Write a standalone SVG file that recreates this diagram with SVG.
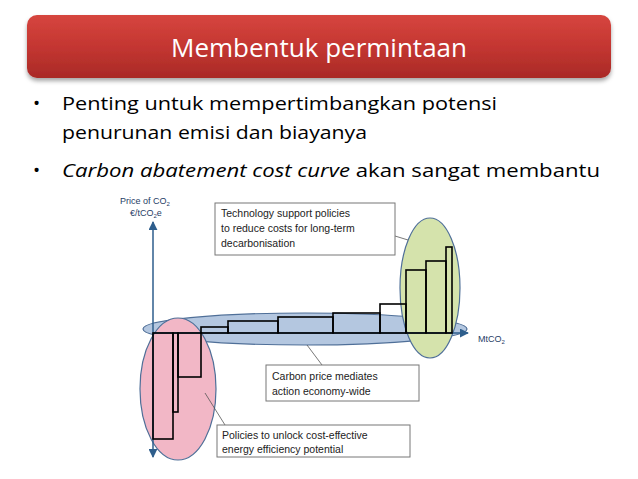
<svg xmlns="http://www.w3.org/2000/svg" width="638" height="479" viewBox="0 0 638 479">
<defs>
<linearGradient id="rg" x1="0" y1="0" x2="0" y2="1"><stop offset="0" stop-color="#d6463f"/><stop offset="0.5" stop-color="#c43631"/><stop offset="1" stop-color="#a92a27"/></linearGradient>
<marker id="ar" viewBox="0 0 10 10" refX="9" refY="5" markerWidth="6" markerHeight="6" orient="auto-start-reverse"><path d="M0,0L10,5L0,10z" fill="#2e5e8c"/></marker>
<filter id="sh" x="-5%" y="-20%" width="110%" height="150%"><feDropShadow dx="0" dy="3" stdDeviation="2" flood-color="#000" flood-opacity="0.35"/></filter>
</defs>
<style>
.b{font-family:"Open Sans","Liberation Sans",sans-serif;font-size:19px;fill:#000}
.s{font-family:"Liberation Sans",Arial,sans-serif;font-size:10.5px;fill:#222}
.ax{font-family:"Liberation Sans",Arial,sans-serif;font-size:9px;fill:#1f3e66}
.box{fill:#fff;stroke:#777;stroke-width:1}
.bar{fill:none;stroke:#000;stroke-width:1.6}
.ld{stroke:#555;stroke-width:0.8;fill:none}
</style>
<rect width="638" height="479" fill="#fff"/>
<g id="title">
<rect x="27" y="15" width="584" height="63" rx="10" fill="url(#rg)" filter="url(#sh)"/>
<text x="319" y="57" text-anchor="middle" font-family="Open Sans,Liberation Sans,sans-serif" font-size="26" fill="#fff">Membentuk permintaan</text>
</g>
<g id="bullets">
<text x="33" y="110" class="b">•</text>
<text x="62" y="110" class="b" textLength="435" lengthAdjust="spacingAndGlyphs">Penting untuk mempertimbangkan potensi</text>
<text x="62" y="139" class="b" textLength="305" lengthAdjust="spacingAndGlyphs">penurunan emisi dan biayanya</text>
<text x="33" y="177" class="b">•</text>
<text x="62" y="177" class="b" textLength="538" lengthAdjust="spacingAndGlyphs"><tspan font-style="italic">Carbon abatement cost curve</tspan> akan sangat membantu</text>
</g>
<g id="ellipses">
<ellipse id="blue" cx="305" cy="329" rx="162" ry="16" fill="#b4c7e0" stroke="#4f6f98" stroke-width="1.2"/>
<ellipse id="pink" cx="178" cy="389" rx="38" ry="71" fill="#f2b7c6" stroke="#4f6f98" stroke-width="1.2"/>
<ellipse id="green" cx="430" cy="288" rx="30" ry="70" fill="#d5e3ac" stroke="#4f6f98" stroke-width="1.2"/>
</g>
<g id="axes">
<line x1="153" y1="457" x2="153" y2="222" stroke="#2e5e8c" stroke-width="1.5" marker-end="url(#ar)" marker-start="url(#ar)"/>
<line x1="153" y1="333" x2="468" y2="333" stroke="#2e5e8c" stroke-width="1.5" marker-end="url(#ar)"/>
<text x="120" y="204" class="ax">Price of CO<tspan font-size="6" dy="2">2</tspan></text>
<text x="130" y="216" class="ax">€/tCO<tspan font-size="6" dy="2">2</tspan><tspan dy="-2">e</tspan></text>
<text x="478" y="342" class="ax">MtCO<tspan font-size="6" dy="2">2</tspan></text>
</g>
<g id="bars">
<rect x="153" y="333" width="20" height="106" class="bar"/>
<rect x="173" y="333" width="5" height="79" class="bar"/>
<rect x="178" y="333" width="23" height="44" class="bar"/>
<rect x="201" y="327" width="27" height="6" class="bar"/>
<rect x="228" y="321" width="50" height="12" class="bar"/>
<rect x="278" y="317" width="55" height="16" class="bar"/>
<rect x="333" y="313" width="47" height="20" class="bar"/>
<rect x="380" y="304" width="26" height="29" class="bar"/>
<rect x="406" y="270" width="20" height="63" class="bar"/>
<rect x="426" y="261" width="20" height="72" class="bar"/>
<rect x="446" y="247" width="6" height="86" class="bar"/>
</g>
<g id="connectors">
<line x1="395" y1="236" x2="408" y2="240" class="ld"/>
<line x1="307" y1="345" x2="322" y2="365" class="ld"/>
<line x1="205" y1="393" x2="225" y2="425" class="ld"/>
</g>
<g id="box-tech">
<rect x="215" y="203" width="180" height="52" class="box"/>
<text x="221" y="217" class="s">Technology support policies</text>
<text x="221" y="232" class="s">to reduce costs for long-term</text>
<text x="221" y="247" class="s">decarbonisation</text>
</g>
<g id="box-carbon">
<rect x="266" y="365" width="153" height="36" class="box"/>
<text x="272" y="380" class="s">Carbon price mediates</text>
<text x="272" y="395" class="s">action economy-wide</text>
</g>
<g id="box-policies">
<rect x="217" y="425" width="193" height="32" class="box"/>
<text x="222" y="439" class="s">Policies to unlock cost-effective</text>
<text x="222" y="453" class="s">energy efficiency potential</text>
</g>
</svg>
